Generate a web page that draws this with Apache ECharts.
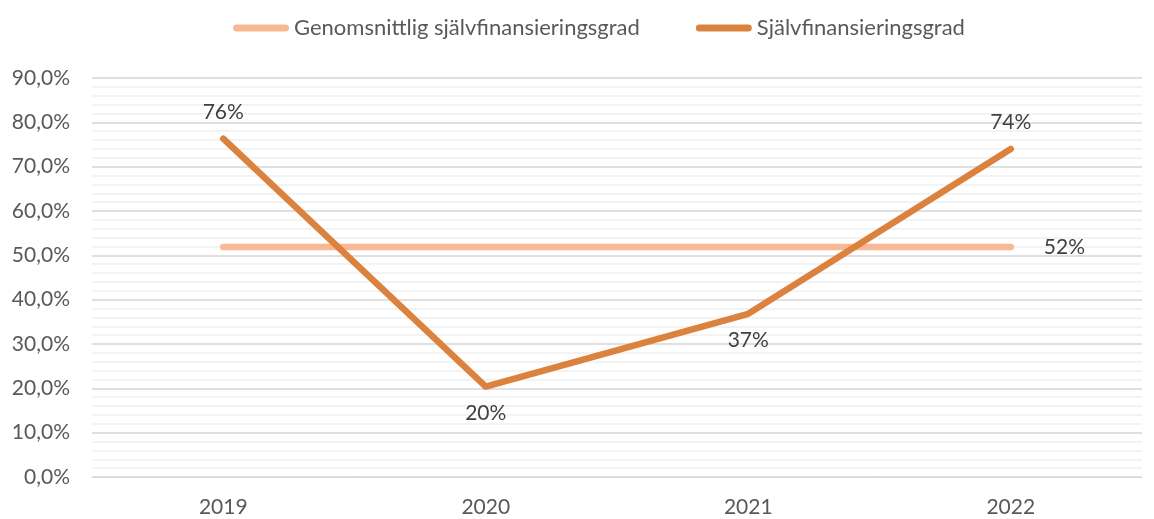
<!DOCTYPE html>
<html>
<head>
<meta charset="utf-8">
<script src="https://cdn.jsdelivr.net/npm/echarts@6/dist/echarts.min.js"></script>
<style>
  html, body { margin: 0; padding: 0; background: #fff; }
  #chart { width: 1154px; height: 519px; }
</style>
</head>
<body>
<div id="chart"></div>
<script>
const years = ['2019', '2020', '2021', '2022'];
const selfFinancing = [76.3, 20.4, 36.8, 74.0];
const averageLevel = [51.9, 51.9, 51.9, 51.9];
const labelSides = ['top', 'bottom', 'bottom', 'top'];

const FONT = 'Lato, sans-serif';
const TEXT = '#595959';
const FS = 21;

const chart = echarts.init(document.getElementById('chart'), null, { renderer: 'canvas' });

const pct = (v) => Math.round(v) + '%';
const legendIcon = 'path://M3.5,0 h49 a3.5,3.5 0 0 1 0,7 h-49 a3.5,3.5 0 0 1 0,-7z';

chart.setOption({
  animation: false,
  legend: {
    top: 12,
    left: 228,
    itemWidth: 56,
    itemHeight: 7,
    itemGap: 56,
    textStyle: { fontFamily: FONT, fontSize: 22, color: TEXT },
    data: [
      { name: 'Genomsnittlig självfinansieringsgrad', icon: legendIcon },
      { name: 'Självfinansieringsgrad', icon: legendIcon }
    ]
  },
  grid: { left: 92, right: 12, top: 78, bottom: 42 },
  xAxis: {
    type: 'category',
    data: years,
    boundaryGap: true,
    axisLine: { show: true, lineStyle: { color: '#d9d9d9', width: 1 } },
    axisTick: { show: false },
    axisLabel: { fontFamily: FONT, fontSize: FS, color: TEXT, margin: 20 }
  },
  yAxis: {
    type: 'value',
    min: 0,
    max: 90,
    interval: 10,
    axisLine: { show: false },
    axisTick: { show: false },
    axisLabel: {
      fontFamily: FONT, fontSize: FS, color: TEXT, margin: 22,
      formatter: (v) => v.toFixed(1).replace('.', ',') + '%'
    },
    splitLine: { lineStyle: { color: '#d6d6d6', width: 1.5 } },
    minorTick: { show: false, splitNumber: 5 },
    minorSplitLine: { show: true, lineStyle: { color: '#efefef', width: 1.5 } }
  },
  series: [
    {
      name: 'Genomsnittlig självfinansieringsgrad',
      type: 'line',
      symbol: 'circle',
      symbolSize: 0.1,
      showSymbol: true,
      color: '#f8b893',
      lineStyle: { width: 6.5, color: '#f8b893', cap: 'round' },
      data: averageLevel.map((v, i) => ({
        value: v,
        label: {
          show: i === averageLevel.length - 1,
          position: 'right',
          distance: 33,
          formatter: (p) => pct(p.value),
          fontFamily: FONT, fontSize: FS, color: '#404040'
        }
      })),
      z: 2
    },
    {
      name: 'Självfinansieringsgrad',
      type: 'line',
      symbol: 'circle',
      symbolSize: 0.1,
      showSymbol: true,
      color: '#db823e',
      lineStyle: { width: 6.5, color: '#db823e', cap: 'round', join: 'round' },
      data: selfFinancing.map((v, i) => ({
        value: v,
        label: {
          show: true,
          position: labelSides[i],
          distance: 16,
          formatter: (p) => pct(p.value),
          fontFamily: FONT, fontSize: FS, color: '#404040'
        }
      })),
      z: 3
    }
  ]
});
</script>
</body>
</html>
